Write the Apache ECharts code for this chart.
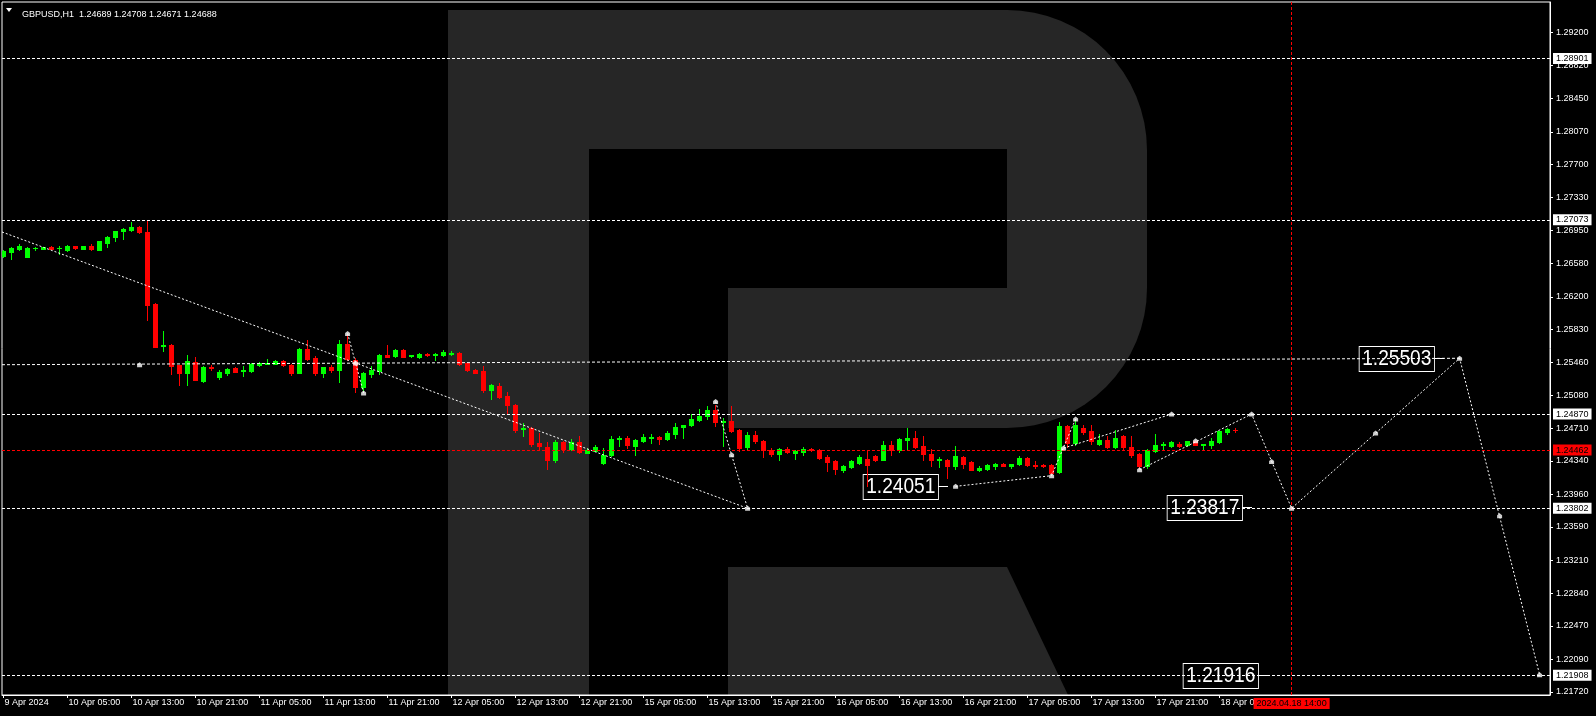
<!DOCTYPE html>
<html>
<head>
<meta charset="utf-8">
<script src="https://cdn.jsdelivr.net/npm/echarts@6/dist/echarts.min.js"></script>
<style>
html,body{margin:0;padding:0;background:#000;}
#chart{width:1596px;height:716px;}
</style>
</head>
<body>
<div id="chart"></div>
<script>
// ---------- data ----------
const titleText = 'GBPUSD,H1  1.24689 1.24708 1.24671 1.24688';
const timeLabels = ['9 Apr 2024','10 Apr 05:00','10 Apr 13:00','10 Apr 21:00','11 Apr 05:00','11 Apr 13:00','11 Apr 21:00','12 Apr 05:00','12 Apr 13:00','12 Apr 21:00','15 Apr 05:00','15 Apr 13:00','15 Apr 21:00','16 Apr 05:00','16 Apr 13:00','16 Apr 21:00','17 Apr 05:00','17 Apr 13:00','17 Apr 21:00','18 Apr 05:00'];
const labelBars = [0,8,16,24,32,40,48,56,64,72,80,88,96,104,112,120,128,136,144,152];
const priceTicks = [1.29200,1.28820,1.28450,1.28070,1.27700,1.27330,1.26950,1.26580,1.26200,1.25830,1.25460,1.25080,1.24710,1.24340,1.23960,1.23590,1.23210,1.22840,1.22470,1.22090,1.21720];

const openPrices = [
1.26659,1.26704,1.26745,1.26655,1.26749,1.26745,1.26764,1.26749,1.26734,1.26772,
1.26745,1.26780,1.26734,1.26814,1.26874,1.26942,1.26961,1.26995,1.26938,1.26118,
1.25638,1.25657,1.25423,1.25332,1.25461,1.25249,1.25404,1.25294,1.25340,1.25396,
1.25362,1.25362,1.25423,1.25442,1.25442,1.25476,1.25430,1.25340,1.25612,1.25510,
1.25340,1.25400,1.25374,1.25669,1.25480,1.25181,1.25328,1.25362,1.25544,1.25525,
1.25601,1.25525,1.25521,1.25551,1.25536,1.25536,1.25555,1.25566,1.25449,1.25373,
1.25355,1.25147,1.25192,1.25079,1.24977,1.24697,1.24716,1.24546,1.24500,1.24346,
1.24557,1.24478,1.24557,1.24433,1.24455,1.24319,1.24402,1.24587,1.24603,1.24512,
1.24569,1.24595,1.24614,1.24591,1.24648,1.24720,1.24750,1.24807,1.24844,1.24920,
1.24780,1.24795,1.24693,1.24493,1.24637,1.24568,1.24467,1.24421,1.24478,1.24429,
1.24436,1.24478,1.24467,1.24380,1.24334,1.24240,1.24270,1.24315,1.24357,1.24391,
1.24353,1.24523,1.24459,1.24572,1.24599,1.24512,1.24421,1.24349,1.24353,1.24278,
1.24383,1.24323,1.24232,1.24247,1.24285,1.24308,1.24285,1.24308,1.24368,1.24289,
1.24293,1.24296,1.24210,1.24739,1.24542,1.24712,1.24674,1.24535,1.24572,1.24493,
1.24618,1.24497,1.24417,1.24278,1.24448,1.24519,1.24512,1.24535,1.24523,1.24561,
1.24523,1.24523,1.24550,1.24663,1.24689];
const highPrices = [
1.26727,1.26764,1.26802,1.26764,1.26768,1.26764,1.26772,1.26780,1.26791,1.26780,
1.26780,1.26802,1.26836,1.26893,1.26950,1.26976,1.27048,1.27006,1.27073,1.26125,
1.25816,1.25669,1.25427,1.25544,1.25521,1.25419,1.25423,1.25374,1.25393,1.25404,
1.25419,1.25449,1.25464,1.25498,1.25480,1.25487,1.25438,1.25623,1.25706,1.25525,
1.25404,1.25423,1.25714,1.25771,1.25506,1.25351,1.25419,1.25555,1.25650,1.25612,
1.25604,1.25540,1.25567,1.25559,1.25559,1.25593,1.25586,1.25578,1.25457,1.25377,
1.25419,1.25215,1.25222,1.25117,1.24984,1.24769,1.24723,1.24656,1.24557,1.24580,
1.24565,1.24587,1.24625,1.24485,1.24519,1.24485,1.24625,1.24618,1.24618,1.24591,
1.24648,1.24640,1.24618,1.24678,1.24769,1.24750,1.24871,1.24931,1.24965,1.24977,
1.24822,1.24965,1.24701,1.24670,1.24682,1.24576,1.24485,1.24489,1.24493,1.24459,
1.24493,1.24485,1.24474,1.24402,1.24353,1.24296,1.24346,1.24410,1.24466,1.24406,
1.24561,1.24561,1.24599,1.24712,1.24674,1.24625,1.24474,1.24383,1.24364,1.24512,
1.24398,1.24334,1.24278,1.24308,1.24319,1.24319,1.24304,1.24391,1.24380,1.24334,
1.24308,1.24308,1.24784,1.24746,1.24799,1.24750,1.24750,1.24648,1.24625,1.24693,
1.24637,1.24625,1.24429,1.24474,1.24648,1.24550,1.24561,1.24550,1.24569,1.24572,
1.24535,1.24599,1.24682,1.24712,1.24708];
const lowPrices = [
1.26651,1.26628,1.26734,1.26647,1.26734,1.26742,1.26742,1.26689,1.26715,1.26745,
1.26738,1.26734,1.26727,1.26761,1.26829,1.26859,1.26942,1.26919,1.25941,1.25627,
1.25589,1.25328,1.25196,1.25204,1.25253,1.25238,1.25374,1.25272,1.25317,1.25343,
1.25306,1.25351,1.25411,1.25438,1.25438,1.25419,1.25310,1.25336,1.25487,1.25317,
1.25294,1.25343,1.25238,1.25487,1.25124,1.25128,1.25287,1.25321,1.25514,1.25517,
1.25517,1.25521,1.25510,1.25529,1.25487,1.25525,1.25536,1.25430,1.25362,1.25336,
1.25116,1.25045,1.25056,1.24875,1.24671,1.24618,1.24504,1.24467,1.24251,1.24323,
1.24436,1.24467,1.24429,1.24425,1.24448,1.24308,1.24395,1.24512,1.24489,1.24402,
1.24557,1.24546,1.24535,1.24580,1.24603,1.24603,1.24739,1.24795,1.24814,1.24739,
1.24504,1.24663,1.24451,1.24470,1.24542,1.24383,1.24391,1.24346,1.24429,1.24361,
1.24402,1.24451,1.24361,1.24221,1.24194,1.24210,1.24259,1.24308,1.24055,1.24334,
1.24346,1.24410,1.24436,1.24466,1.24489,1.24353,1.24285,1.24270,1.24145,1.24247,
1.24259,1.24232,1.24221,1.24232,1.24247,1.24278,1.24259,1.24293,1.24285,1.24259,
1.24270,1.24194,1.24202,1.24497,1.24523,1.24648,1.24535,1.24523,1.24485,1.24485,
1.24474,1.24383,1.24262,1.24255,1.24436,1.24474,1.24497,1.24497,1.24512,1.24519,
1.24466,1.24485,1.24542,1.24648,1.24671];
const closePrices = [
1.26715,1.26757,1.26780,1.26757,1.26757,1.26761,1.26745,1.26757,1.26772,1.26749,
1.26776,1.26738,1.26829,1.26882,1.26946,1.26972,1.26991,1.26938,1.26111,1.25635,
1.25657,1.25411,1.25332,1.25472,1.25260,1.25408,1.25396,1.25351,1.25385,1.25351,
1.25370,1.25434,1.25453,1.25449,1.25476,1.25423,1.25340,1.25612,1.25498,1.25340,
1.25400,1.25374,1.25669,1.25495,1.25181,1.25340,1.25374,1.25544,1.25521,1.25601,
1.25521,1.25536,1.25548,1.25536,1.25555,1.25578,1.25567,1.25438,1.25366,1.25339,
1.25147,1.25196,1.25064,1.24969,1.24693,1.24708,1.24535,1.24512,1.24346,1.24557,
1.24478,1.24557,1.24436,1.24463,1.24500,1.24410,1.24591,1.24599,1.24516,1.24580,
1.24606,1.24610,1.24591,1.24659,1.24727,1.24746,1.24818,1.24852,1.24920,1.24776,
1.24795,1.24682,1.24489,1.24637,1.24561,1.24459,1.24421,1.24474,1.24436,1.24448,
1.24478,1.24459,1.24368,1.24323,1.24247,1.24285,1.24334,1.24383,1.24296,1.24353,
1.24523,1.24459,1.24587,1.24599,1.24497,1.24417,1.24346,1.24361,1.24278,1.24391,
1.24308,1.24240,1.24262,1.24296,1.24308,1.24285,1.24304,1.24372,1.24293,1.24281,
1.24281,1.24202,1.24739,1.24542,1.24750,1.24663,1.24561,1.24580,1.24497,1.24599,
1.24497,1.24410,1.24278,1.24459,1.24523,1.24535,1.24550,1.24512,1.24561,1.24523,
1.24535,1.24561,1.24674,1.24701,1.24688];

const whiteLevels = [1.28901, 1.27073, 1.24870, 1.23802, 1.21908];
const redLevel = 1.24462;
const lastPrice = 1.24688;
const timeLineBar = 161;
const timeLineText = '2024.04.18 14:00';

const trendLine = [[-0.2, 1.25430], [182, 1.25503]];
const waveA = [[-0.2, 1.26935], [93, 1.23802]];
const waveB = [[43, 1.25785], [45, 1.25110]];
const waveC = [[89, 1.25012], [93, 1.23802]];
const waveD = [[119, 1.24051], [131, 1.24172], [134, 1.24815]];
const waveE = [[132.5, 1.24485], [146, 1.24870]];
const waveF = [[142, 1.24240], [156, 1.24870], [161, 1.23802], [182, 1.25503], [192, 1.21916]];
const waveMarks = [[17,1.25430],[43,1.25785],[44,1.25449],[45,1.25110],[89,1.25012],[91,1.24410],[93,1.23802],
  [119,1.24051],[131,1.24172],[132.5,1.24485],[134,1.24815],[146,1.24870],[142,1.24240],[149,1.24568],
  [156,1.24870],[158.5,1.24334],[161,1.23802],[171.5,1.24656],[182,1.25503],[187,1.23718],[192,1.21916]];
const tagBars = [118, 156, 180, 158];
const tagPrices = [1.24051, 1.23817, 1.25503, 1.21916];
const tagTexts = ['1.24051', '1.23817', '1.25503', '1.21916'];

// ---------- chart ----------
const chart = echarts.init(document.getElementById('chart'), null, {renderer: 'canvas'});
const FONT = 'Liberation Sans';
const GREY = '#262626';

function candleItem(params, api) {
  const k = api.value(0), o = api.value(1), h = api.value(2), l = api.value(3), c = api.value(4);
  const pO = api.coord([k, o]), pC = api.coord([k, c]), pH = api.coord([k, h]), pL = api.coord([k, l]);
  const xc = Math.round(pO[0] - 0.5);
  const yT = Math.round(Math.min(pO[1], pC[1]));
  const yB = Math.round(Math.max(pO[1], pC[1]));
  const yH = Math.round(pH[1]), yL = Math.round(pL[1]);
  const col = c >= o ? '#00ff00' : '#ff0000';
  return {type: 'group', children: [
    {type: 'rect', shape: {x: xc, y: yH, width: 1, height: Math.max(1, yL - yH + 1)}, style: {fill: col}},
    {type: 'rect', shape: {x: xc - 2, y: yT, width: 5, height: Math.max(1, yB - yT + 1)}, style: {fill: col}}
  ]};
}

function tagItem(params, api) {
  const p = api.coord([api.value(0), api.value(1)]);
  const x = Math.round(p[0]), y = Math.round(p[1]);
  return {type: 'group', children: [
    {type: 'rect', shape: {x: x - 10, y: y, width: 10, height: 1}, style: {fill: '#fff'}},
    {type: 'text', x: x - 10, y: y + 1, scaleX: 0.87,
      style: {text: tagTexts[params.dataIndex], fill: '#fff', font: '22px "' + FONT + '"',
        align: 'right', verticalAlign: 'middle',
        backgroundColor: '#000', borderColor: '#fff', borderWidth: 1, padding: [2, 3, 0, 3], lineHeight: 22}}
  ]};
}

function lvlLabel(text, bg) {
  return {show: true, position: 'end', formatter: text, color: '#000', backgroundColor: bg,
    padding: [1, 3, 0, 3], fontSize: 9, fontFamily: FONT, distance: 3, lineHeight: 10};
}

const markData = whiteLevels.map(v => ({yAxis: v,
  lineStyle: {color: '#fff', type: [3, 2], width: 1}, label: lvlLabel(v.toFixed(5), '#fff')}));
markData.push({yAxis: redLevel, lineStyle: {color: '#ff0000', type: [3, 2], width: 1}, label: lvlLabel(redLevel.toFixed(5), '#ff0000')});
markData.push({yAxis: lastPrice, lineStyle: {opacity: 0}, label: lvlLabel(lastPrice.toFixed(5), '#fff')});
markData.push({xAxis: timeLineBar, lineStyle: {color: '#ff0000', type: [3, 2], width: 1},
  label: {show: true, position: 'start', formatter: timeLineText, color: '#000', backgroundColor: '#ff0000',
    padding: [1, 3, 0, 3], fontSize: 9, fontFamily: FONT, distance: 3, lineHeight: 10}});

function waveSeries(pts, z, dash) {
  return {type: 'line', data: pts, symbol: 'none', silent: true, z: z, animation: false,
    lineStyle: {color: '#fff', width: 1, type: dash}};
}

const option = {
  backgroundColor: '#000',
  animation: false,
  title: {text: titleText, left: 17, top: 5,
    textStyle: {color: '#fff', fontSize: 9, fontWeight: 'normal', fontFamily: FONT}},
  graphic: [
    {type: 'rect', z: -5, silent: true, shape: {x: 448, y: 10, width: 141, height: 685}, style: {fill: GREY}},
    {type: 'rect', z: -5, silent: true, shape: {x: 589, y: 10, width: 558, height: 418, r: [0, 140, 140, 0]}, style: {fill: GREY}},
    {type: 'rect', z: -4, silent: true, shape: {x: 589, y: 149, width: 418, height: 139}, style: {fill: '#000'}},
    {type: 'rect', z: -4, silent: true, shape: {x: 589, y: 288, width: 139, height: 140}, style: {fill: '#000'}},
    {type: 'polygon', z: -5, silent: true, shape: {points: [[728, 567], [1007, 567], [1068, 695], [728, 695]]}, style: {fill: GREY}},
    {type: 'polygon', z: 10, silent: true, shape: {points: [[6, 8], [12, 8], [9, 12]]}, style: {fill: '#fff'}}
  ],
  grid: {left: 2, top: 2, right: 46, bottom: 21, show: true, borderColor: '#fff', borderWidth: 1, backgroundColor: 'transparent'},
  xAxis: {
    type: 'value', min: -0.2, max: 193.3,
    axisLine: {show: true, onZero: false, lineStyle: {color: '#fff'}},
    axisTick: {show: true, length: 3, lineStyle: {color: '#fff'}, customValues: labelBars},
    axisLabel: {show: true, customValues: labelBars, formatter: v => timeLabels[Math.round(v / 8)],
      align: 'left', color: '#fff', fontSize: 9, fontFamily: FONT, margin: 3, padding: [0, 0, 0, 1]},
    splitLine: {show: false}
  },
  yAxis: {
    type: 'value', position: 'right', min: 1.216853, max: 1.295424,
    axisLine: {show: true, onZero: false, lineStyle: {color: '#fff'}},
    axisTick: {show: true, length: 3, lineStyle: {color: '#fff'}, customValues: priceTicks},
    axisLabel: {show: true, customValues: priceTicks, formatter: v => v.toFixed(5),
      color: '#fff', fontSize: 9, fontFamily: FONT, margin: 6},
    splitLine: {show: false}
  },
  series: [
    {type: 'line', name: 'levels', data: [[0, lastPrice]], symbol: 'none', showSymbol: false,
      lineStyle: {opacity: 0}, silent: true, z: 1, animation: false,
      markLine: {silent: true, symbol: ['none', 'none'], animation: false, precision: 5, data: markData}},
    {type: 'custom', name: 'tags', renderItem: tagItem, z: 2, silent: true, animation: false, clip: false,
      data: tagBars.map((b, i) => [b, tagPrices[i]]), encode: {x: 0, y: 1}},
    {type: 'custom', name: 'GBPUSD', renderItem: candleItem, z: 3, silent: true, animation: false, clip: true,
      data: openPrices.map((o, i) => [i, o, highPrices[i], lowPrices[i], closePrices[i]]),
      encode: {x: 0, y: [1, 2, 3, 4]}},
    waveSeries(trendLine, 4, [3, 2]),
    waveSeries(waveA, 4, [2, 2]),
    waveSeries(waveB, 4, [2, 2]),
    waveSeries(waveC, 4, [2, 2]),
    waveSeries(waveD, 4, [2, 2]),
    waveSeries(waveE, 4, [2, 2]),
    waveSeries(waveF, 4, [2, 2]),
    {type: 'scatter', data: waveMarks, symbol: 'path://M2,0 L4,2 L4,5 L0,5 L0,2 Z', symbolSize: [5, 5],
      itemStyle: {color: '#fff'}, silent: true, z: 5, animation: false}
  ]
};
chart.setOption(option);
</script>
</body>
</html>
